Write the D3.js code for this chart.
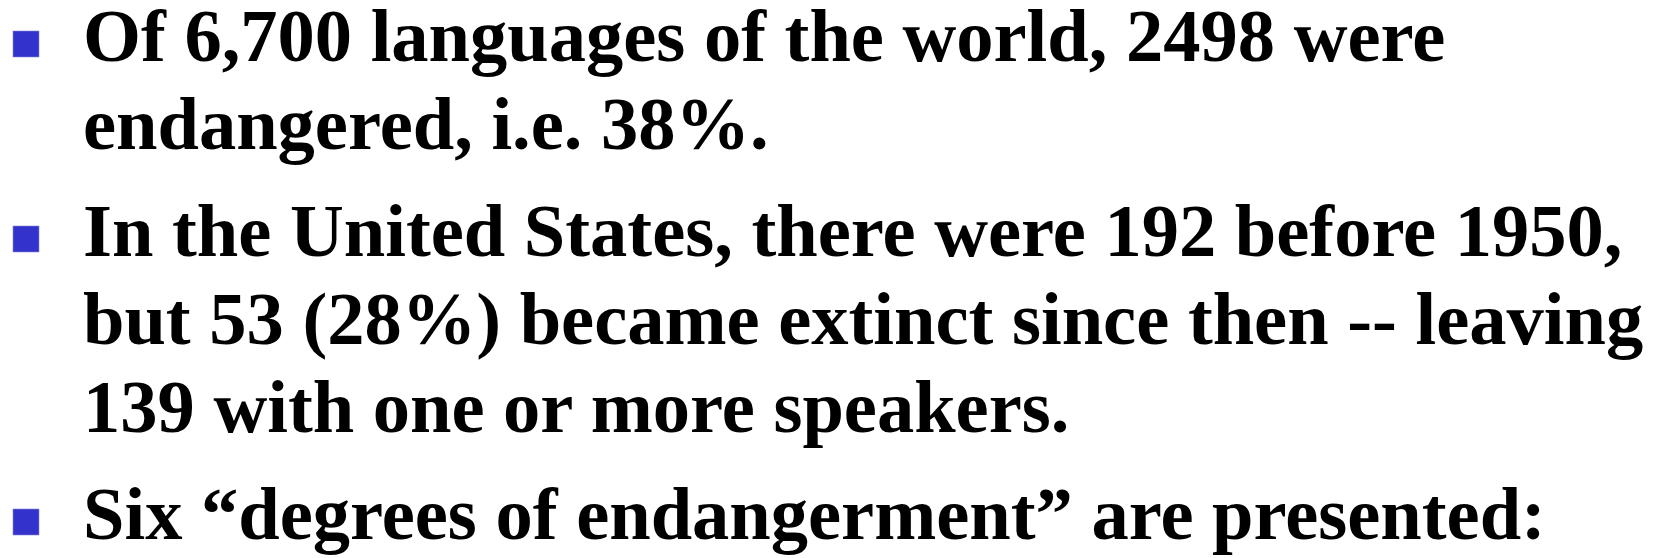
<!DOCTYPE html>
<html>
<head>
<meta charset="utf-8">
<script src="https://cdn.jsdelivr.net/npm/d3@7"></script>
<style>
  html, body { margin: 0; padding: 0; background: #fff; }
  svg { display: block; }
</style>
</head>
<body>
<div id="slide"></div>
<script>
"use strict";
// slide text, one array of lines per bullet
const bullet1 = ["Of 6,700 languages of the world, 2498 were", "endangered, i.e. 38%."];
const bullet2 = ["In the United States, there were 192 before 1950,",
    "but 53 (28%) became extinct since then -- leaving",
    "139 with one or more speakers."];
const bullet3 = ["Six \u201cdegrees of endangerment\u201d are presented:"];
const bullets = [bullet1, bullet2, bullet3];

const width = 1665, height = 558;
const fontSize = 74.5,
    lineStep = 88,
    paraGap = 19,
    textX = 83,
    firstBaseline = 61,
    markSize = 26,
    markX = 13;

// flatten into rows with their baseline
let rows = [];
let y = firstBaseline;
bullets.forEach(function (lines, p) {
    lines.forEach(function (line, i) {
        rows.push({ text: line, para: p, first: i === 0, y: y });
        y += lineStep;
    });
    y += paraGap;
});

var svg = d3.select("#slide")
    .append("svg")
    .attr("width", width)
    .attr("height", height);

svg.selectAll(".mark")
    .data(rows.filter(d => d.first))
    .enter()
    .append("rect")
    .attr("class", "mark")
    .attr("x", markX)
    .attr("y", d => d.y - 30)
    .attr("width", markSize)
    .attr("height", markSize)
    .style("fill", "#3333cc")
    .style("stroke", "#8888dd")
    .style("stroke-width", 0.6);

svg.selectAll(".line")
    .data(rows)
    .enter()
    .append("text")
    .attr("class", "line")
    .attr("x", textX)
    .attr("y", d => d.y)
    .style("font-family", "'Liberation Serif', 'Times New Roman', serif")
    .style("font-weight", "bold")
    .style("font-size", fontSize + "px")
    .style("fill", "#000")
    .text(d => d.text);
</script>
</body>
</html>
